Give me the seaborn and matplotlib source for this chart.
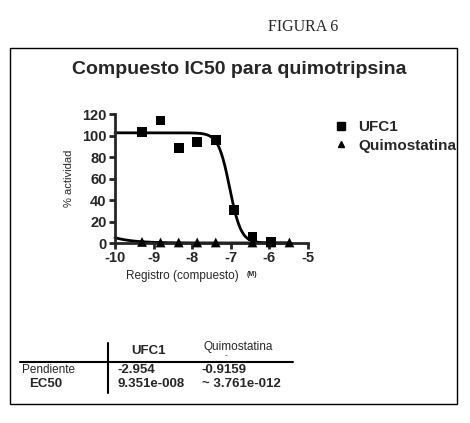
import numpy as np
import pandas as pd
import matplotlib
matplotlib.use("Agg")
import matplotlib.pyplot as plt
import seaborn as sns
from matplotlib.patches import Rectangle
from matplotlib.lines import Line2D

# data (log10 molar concentration, % activity)
ufc1_x = [-9.30, -8.82, -8.35, -7.87, -7.39, -6.92, -6.44, -5.96]
ufc1_y = [103, 114, 88.5, 94, 96, 31, 6, 1]
quimo_x = [-9.30, -8.82, -8.35, -7.87, -7.39, -6.44, -5.96, -5.48]
quimo_y = [1, 0.5, 0.5, 0.5, 0.5, 0.5, 0.5, 0.5]

# fit parameters shown in the table (top plateau estimated from the curve)
series = ["UFC1", "Quimostatina"]
slopes = [-2.954, -0.9159]
ec50s = [9.351e-08, 3.761e-12]
tops = [102.5, 105.0]
slope_labels = ["-2.954", "-0.9159"]
ec50_labels = ["9.351e-008", "~ 3.761e-012"]

x_ticks = [-10, -9, -8, -7, -6, -5]
y_ticks = [0, 20, 40, 60, 80, 100, 120]

sns.set_style("ticks")
plt.rcParams['font.family'] = ['Liberation Sans', 'DejaVu Sans']
narrow = dict(family=['Liberation Sans', 'DejaVu Sans'], fontweight='bold')

fig = plt.figure(figsize=(4.70, 4.23), dpi=100)
ax = fig.add_axes([115/470, 1 - 243/423, 193/470, 129/423])

# fitted curves
xs = np.linspace(-10, -5.48, 300)
rows = []
for name, h, ec, top in zip(series, slopes, ec50s, tops):
    ys = top / (1 + 10 ** ((np.log10(ec) - xs) * h))
    rows.append(pd.DataFrame({'x': xs, 'y': ys, 'serie': name}))
curves = pd.concat(rows)
sns.lineplot(data=curves, x='x', y='y', hue='serie', palette=['black', 'black'],
             linewidth=2, legend=False, ax=ax, clip_on=False)

pts = pd.concat([
    pd.DataFrame({'x': ufc1_x, 'y': ufc1_y, 'serie': 'UFC1'}),
    pd.DataFrame({'x': quimo_x, 'y': quimo_y, 'serie': 'Quimostatina'}),
])
sns.scatterplot(data=pts, x='x', y='y', style='serie', markers={'UFC1': 's', 'Quimostatina': '^'},
                hue='serie', palette=['black', 'black'], s=50, edgecolor='black',
                linewidth=0, legend=False, ax=ax, clip_on=False, zorder=5)

ax.set_xlim(-10, -5)
ax.set_ylim(0, 120)
ax.set_xticks(x_ticks)
ax.set_yticks(y_ticks)
ax.set_xticklabels([str(t) for t in x_ticks], fontsize=10.5, **narrow)
ax.set_yticklabels([str(t) for t in y_ticks], fontsize=10.5, **narrow)
ax.tick_params(direction='out', length=4, width=2, pad=2)
for s in ['left', 'bottom']:
    ax.spines[s].set_linewidth(2)
sns.despine(ax=ax)
ax.set_xlabel('')
ax.set_ylabel('% actividad', fontsize=8, labelpad=6)
fig.text(126/470, 1 - 276/423, 'Registro (compuesto)', fontsize=8.5, va='center')
fig.text(247/470, 1 - 274/423, '(M)', fontsize=5, fontweight='bold', va='center')

# legend
handles = [Line2D([], [], marker='s', ls='', color='black', markersize=5.5),
           Line2D([], [], marker='^', ls='', color='black', markersize=5)]
fig.legend(handles, series, loc='upper left', bbox_to_anchor=(326/470, 1 - 114/423),
           frameon=False, prop={'weight': 'bold', 'size': 11}, handletextpad=0.5,
           labelspacing=0.3, handlelength=1.2, borderaxespad=0)

# titles and frame
fig.text(303/470, 1 - 27/423, 'FIGURA 6', family=['Liberation Serif', 'DejaVu Serif'],
         fontsize=11.5, ha='center', va='center')
fig.patches.append(Rectangle((10/470, 1 - 404/423), 447/470, 356/423, transform=fig.transFigure,
                             fill=False, edgecolor='black', linewidth=1))
fig.text(239/470, 1 - 70/423, 'Compuesto IC50 para quimotripsina', fontsize=14,
         fontweight='bold', ha='center', va='center')

# parameter table
fig.add_artist(Line2D([108/470, 108/470], [1 - 343/423, 1 - 393/423], color='black', lw=1.5))
fig.add_artist(Line2D([20/470, 293/470], [1 - 362/423, 1 - 362/423], color='black', lw=1.5))
fig.text(148/470, 1 - 351/423, 'UFC1', fontsize=9.5, ha='center', va='center', **narrow)
fig.text(238/470, 1 - 347/423, 'Quimostatina', fontsize=8.5, ha='center', va='center')
fig.text(226/470, 1 - 356/423, '-', fontsize=6, ha='center', va='center')
fig.text(22/470, 1 - 370/423, 'Pendiente', fontsize=8.5, va='center')
fig.text(29/470, 1 - 384/423, 'EC50', fontsize=9.5, va='center', **narrow)
col_x = [117, 202]
for cx, sl, ec in zip(col_x, slope_labels, ec50_labels):
    fig.text(cx/470, 1 - 370/423, sl, fontsize=9.5, va='center', **narrow)
    fig.text(cx/470, 1 - 384/423, ec, fontsize=9.5, va='center', **narrow)

fig.savefig('out.png', dpi=100)
